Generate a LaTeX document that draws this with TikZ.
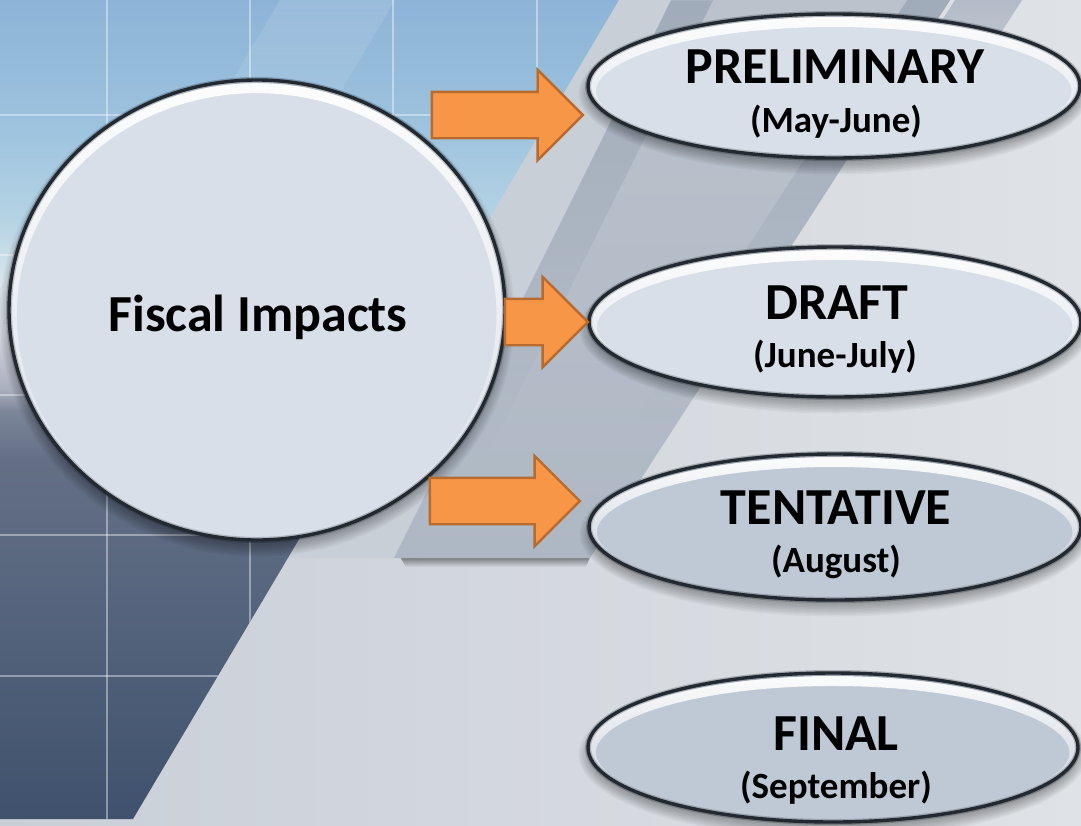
\documentclass[tikz,border=0pt]{standalone}
\usepackage{fontspec}
\setmainfont{Carlito}
\usetikzlibrary{shapes.arrows,shapes.geometric,fadings}
\definecolor{bgL}{HTML}{C9CFD7}
\definecolor{bgR}{HTML}{DFE2E6}
\definecolor{bandT}{HTML}{BBC2CC}
\definecolor{bandB}{HTML}{AEB8C4}
\definecolor{bandA}{HTML}{B2BBC7}
\definecolor{bandD}{HTML}{A1ACBA}
\definecolor{pillL}{HTML}{D9DFE8}
\definecolor{pillD}{HTML}{BFC8D5}
\definecolor{rim}{HTML}{232931}
\definecolor{arrF}{HTML}{F79646}
\definecolor{arrE}{HTML}{B86B2F}
\definecolor{sky0}{HTML}{8DB3D7}
\definecolor{sky1}{HTML}{9CC2DE}
\definecolor{sky2}{HTML}{B5D3E4}
\definecolor{sky3}{HTML}{D8E4EC}
\definecolor{sky4}{HTML}{D6D8E1}
\definecolor{sky5}{HTML}{A9AEBD}
\definecolor{sky6}{HTML}{7C8699}
\definecolor{sky7}{HTML}{646F86}
\definecolor{sky8}{HTML}{56657D}
\definecolor{sky9}{HTML}{3F516D}
\tikzset{
  gridline/.style={white, opacity=0.4, line width=1.2pt},
  blockarrow/.style={single arrow, draw=arrE, fill=arrF, line width=2.4pt,
    single arrow head extend=22pt, inner sep=0pt, anchor=tip},
  titletext/.style={font=\bfseries\fontsize{52}{52}\selectfont, inner sep=0pt},
  subtext/.style={font=\bfseries\fontsize{37}{37}\selectfont, inner sep=0pt},
  pillshape/.style={ellipse, inner sep=0pt}
}
% #1 name, #2 cx, #3 cy, #4 rx, #5 ry, #6 fill
\newcommand\pillbubble[6]{%
  \foreach \k in {0,...,9} {\fill[black,opacity=0.035] (#2,#3+7) ellipse [x radius={#4+\k*1.5-4}, y radius={#5+\k*1.5-4}];}
  \node[pillshape, fill=#6, minimum width={2*#4}, minimum height={2*#5}] (#1) at (#2,#3) {};
  \begin{scope}
    \clip (#2,#3) ellipse [x radius=#4, y radius=#5];
    \draw[white, line width=10pt, opacity=0.95, path fading=south] (#2,#3+5) ellipse [x radius={#4-3}, y radius={#5-3}];
  \end{scope}
  \draw[rim, line width=6pt, opacity=0.25] (#2,#3) ellipse [x radius=#4, y radius=#5];
  \draw[rim, line width=3.4pt] (#2,#3) ellipse [x radius=#4, y radius=#5];
}
\begin{document}
\begin{tikzpicture}[x=1pt,y=-1pt]
\useasboundingbox (0,0) rectangle (1081,825);
% background
\shade[left color=bgL, right color=bgR] (0,0) rectangle (1081,825);
\fill[bgL] (619,0) -- (671,0) -- (394,558) -- (288,558) -- cycle;
% bands
\fill[black, opacity=0.45, path fading=south] (400,557) -- (590,557) -- (586,567) -- (406,567) -- cycle;
\shade[top color=bandT, bottom color=bandB] (671,0) -- (950,0) -- (590,558) -- (394,558) -- cycle;
\fill[bandD, path fading=south] (671,0) -- (713,0) -- (490,450) -- (448,450) -- cycle;
\fill[bandD, path fading=south] (907,0) -- (950,0) -- (679,420) -- (636,420) -- cycle;
\fill[bandA, path fading=south] (955,0) -- (1022,0) -- (925,150) -- (858,150) -- cycle;
% photo
\begin{scope}
  \clip (0,0) -- (619,0) -- (133,819) -- (0,819) -- cycle;
  \shade[top color=sky0,bottom color=sky1] (-1,-1) rectangle (620,121);
  \shade[top color=sky1,bottom color=sky2] (-1,120) rectangle (620,221);
  \shade[top color=sky2,bottom color=sky3] (-1,220) rectangle (620,281);
  \shade[top color=sky3,bottom color=sky4] (-1,280) rectangle (620,331);
  \shade[top color=sky4,bottom color=sky5] (-1,330) rectangle (620,391);
  \shade[top color=sky5,bottom color=sky6] (-1,390) rectangle (620,411);
  \shade[top color=sky6,bottom color=sky7] (-1,410) rectangle (620,461);
  \shade[top color=sky7,bottom color=sky8] (-1,460) rectangle (620,601);
  \shade[top color=sky8,bottom color=sky9] (-1,600) rectangle (620,820);
  \fill[white, opacity=0.12, path fading=south] (280,0) -- (395,0) -- (217,300) -- (102,300) -- cycle;
  \foreach \x in {107,250,393,537} \draw[gridline] (\x,0) -- (\x,819);
  \foreach \y in {115,255,395,535,676} \draw[gridline] (0,\y) -- (620,\y);
\end{scope}
% main circle
\pillbubble{fiscal}{257}{310}{248}{230}{pillL}
\node[titletext, anchor=base] (fiscalT) at (258,331) {Fiscal Impacts};
% stages
\pillbubble{prelim}{834}{86}{246}{72}{pillL}
\node[titletext] (prelimT) at (835,66.5) {PRELIMINARY};
\node[subtext] (prelimS) at (836,122) {(May-June)};
\pillbubble{draft}{835}{322}{246}{75}{pillL}
\node[titletext] (draftT) at (837,303) {DRAFT};
\node[subtext] (draftS) at (835,357) {(June-July)};
\pillbubble{tent}{835}{527}{246}{73}{pillD}
\node[titletext] (tentT) at (836,508) {TENTATIVE};
\node[subtext] (tentS) at (836,562) {(August)};
\pillbubble{final}{833}{747.5}{245}{74.5}{pillD}
\node[titletext] (finalT) at (836,734) {FINAL};
\node[subtext] (finalS) at (836,788) {(September)};
% arrows
\node[blockarrow, minimum height=151pt] (arr1) at (584.5,115) {\rule{0pt}{44pt}};
\node[blockarrow, minimum height=83pt] (arr2) at (589.5,322) {\rule{0pt}{44pt}};
\node[blockarrow, minimum height=150pt] (arr3) at (581.5,501) {\rule{0pt}{44pt}};
\end{tikzpicture}
\end{document}
